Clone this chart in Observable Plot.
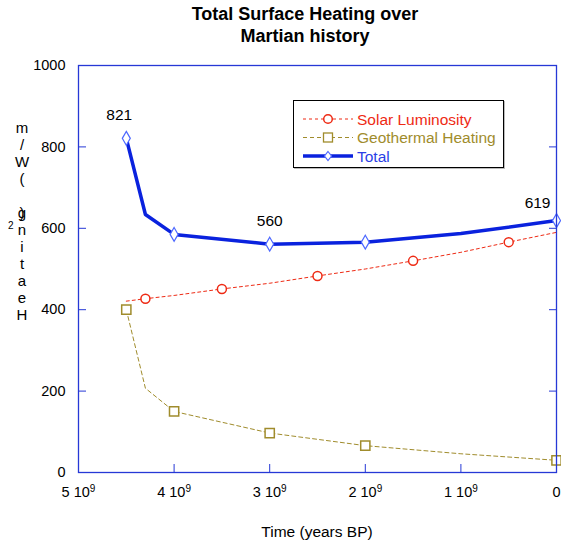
<!DOCTYPE html>
<html><head><meta charset="utf-8">
<script src="https://cdn.jsdelivr.net/npm/d3@7"></script>
<script src="https://cdn.jsdelivr.net/npm/@observablehq/plot@0.6"></script>
<style>
body{margin:0;background:#fff;font-family:"Liberation Sans",Arial,sans-serif;}
#wrap{position:relative;width:561px;height:546px;overflow:hidden;}
#wrap svg{position:absolute;left:0;top:0;}
.ov{position:absolute;color:#000;}
#title{left:0;top:3px;width:610px;text-align:center;font-weight:bold;font-size:18px;line-height:22px;}
#xlabel{left:217px;width:200px;top:523px;text-align:center;font-size:15.5px;line-height:18px;}
#ylabel{left:12px;width:20px;top:119px;text-align:center;font-size:15px;line-height:17px;white-space:pre;}
#ypar{left:12px;width:20px;top:204px;text-align:center;font-size:15px;line-height:17px;}
#ysup{left:8px;top:220px;font-size:10px;line-height:12px;}
#legend{left:293px;top:100px;width:209px;height:66px;border:1px solid #000;background:#fff;box-shadow:1px 1px 0 #bbb;}
</style></head><body><div id="wrap"></div>
<script>
// ---- data ----
const seriesNames = ["Solar Luminosity", "Geothermal Heating", "Total"];

const solarYears  = [4.5e9, 4.3e9, 4.0e9, 3.5e9, 3.0e9, 2.5e9, 2.0e9, 1.5e9, 1.0e9, 0.5e9, 0];
const solarValues = [421, 427, 435, 451, 465, 483, 500, 520, 541, 566, 590];
const solarMarked = [false, true, false, true, false, true, false, true, false, true, false];

const geoYears  = [4.5e9, 4.3e9, 4.0e9, 3.0e9, 2.0e9, 1.0e9, 0];
const geoValues = [400, 207, 150, 97, 66, 46, 30];
const geoMarked = [true, false, true, true, true, false, true];

const totalYears  = [4.5e9, 4.3e9, 4.0e9, 3.0e9, 2.0e9, 1.0e9, 0];
const totalValues = [821, 634, 585, 561, 566, 587, 619];
const totalMarked = [true, false, true, true, true, false, true];

const labelYears  = [4.5e9, 3.0e9, 0];
const labelValues = [821, 560, 619];

const xTicks = [5e9, 4e9, 3e9, 2e9, 1e9, 0];
const xTickBases = ["5 10", "4 10", "3 10", "2 10", "1 10", "0"];
const xTickExponents = ["9", "9", "9", "9", "9", ""];
const yTicks = [0, 200, 400, 600, 800, 1000];

const titleLines = ["Total Surface Heating over", "Martian history"];
const xLabel = "Time (years BP)";
const yLabelChars = ["m", "/", "W", "(", " ", "g", "n", "i", "t", "a", "e", "H"];

// ---- styles ----
const frameBlue = "#2638d6";
const totalBlue = "#0a22de";
const totalMarker = "#4d68ff";
const red = "#ee2a14";
const olive = "#a08c2c";

const toRows = (ys, vs, ms) => ys.map((t, i) => ({t, v: vs[i], m: ms ? ms[i] : true}));
const solar = toRows(solarYears, solarValues, solarMarked);
const geo = toRows(geoYears, geoValues, geoMarked);
const total = toRows(totalYears, totalValues, totalMarked);
const labels = toRows(labelYears, labelValues);

const chart = Plot.plot({
  width: 561, height: 546,
  marginTop: 65, marginBottom: 74, marginLeft: 78, marginRight: 5,
  style: {fontFamily: "'Liberation Sans', Arial, sans-serif", fontSize: "14.5px", color: "#000", background: "transparent"},
  x: {domain: [5e9, 0]},
  y: {domain: [0, 1000]},
  marks: [
    Plot.axisX({ticks: xTicks, tickFormat: d => xTickBases[xTicks.indexOf(d)] + "|" + xTickExponents[xTicks.indexOf(d)], tickSize: -8, tickPadding: 22, label: null, stroke: frameBlue, fill: "#000"}),
    Plot.axisY({ticks: yTicks, tickFormat: d => String(d), tickSize: -8, tickPadding: 21, label: null, stroke: frameBlue, fill: "#000"}),
    Plot.axisY({anchor: "right", ticks: yTicks, tickSize: -8, tickFormat: () => "", label: null, stroke: frameBlue}),
    Plot.line(solar, {x: "t", y: "v", stroke: red, strokeWidth: 1, strokeDasharray: "3,3"}),
    Plot.line(geo, {x: "t", y: "v", stroke: olive, strokeWidth: 1, strokeDasharray: "4,3"}),
    Plot.line(total, {x: "t", y: "v", stroke: totalBlue, strokeWidth: 3.5}),
    Plot.dot(solar.filter(d => d.m), {x: "t", y: "v", r: 4.5, stroke: red, strokeWidth: 1.5, fill: "white"}),
    Plot.dot(geo.filter(d => d.m), {x: "t", y: "v", symbol: "square", r: 5.2, stroke: olive, strokeWidth: 1.5, fill: "white"}),
    Plot.dot(total.filter(d => d.m), {x: "t", y: "v", symbol: "diamond", r: 4.2, stroke: totalMarker, strokeWidth: 1.2, fill: "white"}),
    Plot.text(labels.slice(0, 1), {x: "t", y: "v", text: d => String(d.v), dy: -23, dx: -7, fontSize: 15.5}),
    Plot.text(labels.slice(1, 2), {x: "t", y: "v", text: d => String(d.v), dy: -24, fontSize: 15.5}),
    Plot.text(labels.slice(2), {x: "t", y: "v", text: d => String(d.v), dy: -18, dx: -6, textAnchor: "end", fontSize: 15.5}),
    Plot.frame({stroke: frameBlue, strokeWidth: 1.3})
  ]
});

// superscript exponents on x tick labels
chart.querySelectorAll("text").forEach(el => {
  const s = el.textContent;
  if (s.includes("|")) {
    const [base, exp] = s.split("|");
    el.textContent = base;
    if (exp) {
      const ts = document.createElementNS("http://www.w3.org/2000/svg", "tspan");
      ts.setAttribute("dy", "-0.5em");
      ts.setAttribute("font-size", "10px");
      ts.textContent = exp;
      el.appendChild(ts);
    }
  }
});

const wrap = document.getElementById("wrap");
wrap.appendChild(chart);

function addDiv(id, html) {
  const d = document.createElement("div");
  d.className = "ov"; d.id = id; d.innerHTML = html;
  wrap.appendChild(d);
  return d;
}
addDiv("title", titleLines.join("<br>"));
addDiv("xlabel", xLabel);
addDiv("ylabel", yLabelChars.join("\n"));
addDiv("ypar", ")");
addDiv("ysup", "2");

// legend overlay
const legendStyles = [
  {color: red, dash: "3,3", width: 1, symbol: "circle"},
  {color: olive, dash: "4,3", width: 1, symbol: "square"},
  {color: totalBlue, dash: null, width: 3.5, symbol: "diamond"}
];
const textColors = [red, olive, "#2a3fe6"];
const leg = addDiv("legend", "");
const svg = d3.select(leg).append("svg").attr("width", 209).attr("height", 66).style("position", "absolute").style("left", 0).style("top", 0);
seriesNames.forEach((name, i) => {
  const s = legendStyles[i];
  const cy = 18 + i * 18.5;
  svg.append("line").attr("x1", 9).attr("x2", 59).attr("y1", cy).attr("y2", cy)
    .attr("stroke", s.color).attr("stroke-width", s.width).attr("stroke-dasharray", s.dash);
  if (s.symbol === "circle") svg.append("circle").attr("cx", 34).attr("cy", cy).attr("r", 4.3).attr("fill", "white").attr("stroke", s.color).attr("stroke-width", 1.5);
  if (s.symbol === "square") svg.append("rect").attr("x", 29.5).attr("y", cy - 4.5).attr("width", 9).attr("height", 9).attr("fill", "white").attr("stroke", s.color).attr("stroke-width", 1.3);
  if (s.symbol === "diamond") svg.append("path").attr("d", `M34,${cy-4.5}L37.5,${cy}L34,${cy+4.5}L30.5,${cy}Z`).attr("fill", "white").attr("stroke", totalMarker).attr("stroke-width", 1.2);
  svg.append("text").attr("x", 63).attr("y", cy).attr("dy", "0.36em").attr("fill", textColors[i])
    .style("font-family", "'Liberation Sans', Arial, sans-serif").style("font-size", "15.5px").text(name);
});
</script>
</body></html>
